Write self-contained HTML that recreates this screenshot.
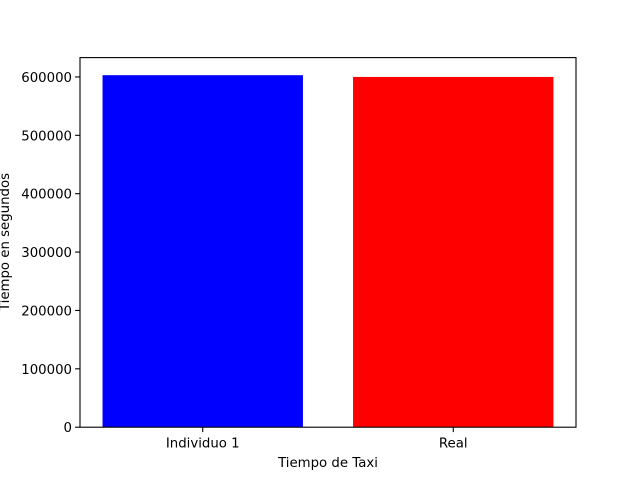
<!DOCTYPE html>
<html><head><meta charset="utf-8"><style>
html,body{margin:0;padding:0;background:#fff;width:640px;height:480px;overflow:hidden}
text{font-family:"DejaVu Sans","Liberation Sans",sans-serif;font-size:13.3px;fill:#000}
</style></head><body>
<svg id="chart" width="640" height="480">
<g id="plot"></g>
</svg>
<script>
const categories = ["Individuo 1", "Real"];
const values = [603000, 600000];
const colors = ["#0000ff", "#ff0000"];
const yTicks = [0, 100000, 200000, 300000, 400000, 500000, 600000];
const NS = "http://www.w3.org/2000/svg";
const L = 80, R = 576, T = 57.6, B = 427.2;
const xMin = -0.49, xMax = 1.49;
const yMax = Math.max(...values) * 1.05;
const xs = v => L + (v - xMin) / (xMax - xMin) * (R - L);
const ys = v => B - v / yMax * (B - T);
const g = document.getElementById('plot');
function mk(tag, attrs, text) {
  const e = document.createElementNS(NS, tag);
  for (const k in attrs) e.setAttribute(k, attrs[k]);
  if (text !== undefined) e.textContent = text;
  g.appendChild(e);
  return e;
}
categories.forEach((c, i) => {
  const x0 = xs(i - 0.4), x1 = xs(i + 0.4);
  const b = mk('rect', {x: x0, y: ys(values[i]), width: x1 - x0, height: B - ys(values[i]), fill: colors[i]});
  
  
  const t = mk('line', {x1: xs(i), x2: xs(i), y1: B, y2: B + 4.9, stroke: '#000', 'stroke-width': 1.1});
  
  
  const l = mk('text', {x: xs(i), y: B + 20.5, 'text-anchor': 'middle'}, c);
  
  
});
yTicks.forEach(v => {
  const t = mk('line', {x1: L - 4.9, x2: L, y1: ys(v), y2: ys(v), stroke: '#000', 'stroke-width': 1.1});
  
  
  const l = mk('text', {x: L - 8, y: ys(v) + 5, 'text-anchor': 'end'}, String(v));
  
  
});
const frame = mk('rect', {x: L, y: T, width: R - L, height: B - T, fill: 'none', stroke: '#000', 'stroke-width': 1.1});


const xt = mk('text', {x: (L + R) / 2, y: 467, 'text-anchor': 'middle'}, 'Tiempo de Taxi');


const yt = mk('text', {x: 0, y: 0, 'text-anchor': 'middle', transform: 'translate(9,242) rotate(-90)'}, 'Tiempo en segundos');


</script>
</body></html>
